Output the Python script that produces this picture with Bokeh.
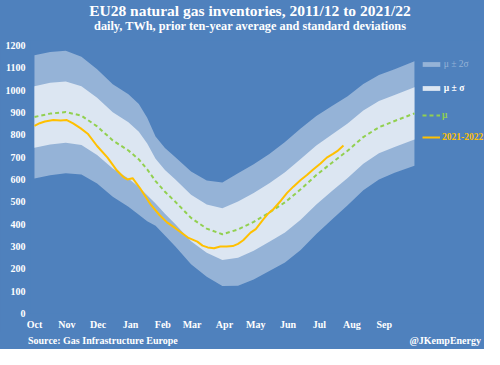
import numpy as np
from bokeh.plotting import figure
from bokeh.layouts import column
from bokeh.models import Range1d, FixedTicker, Legend, LegendItem, Div
from bokeh.embed import file_html
from bokeh.resources import INLINE

# ---- data (days since 1 October) ----
stat_days = [0, 15, 30, 45, 60, 75, 90, 100, 108, 116, 125, 135, 150, 165, 180,
             195, 210, 225, 240, 255, 270, 285, 300, 315, 330, 345, 364]
mu = [880, 895, 902, 886, 838, 775, 730, 690, 645, 593, 545, 500, 428, 380, 355,
      376, 410, 452, 498, 556, 620, 675, 729, 790, 834, 862, 896]
sigma = [138, 138, 137, 132, 128, 126, 126, 124, 116, 100, 98, 100, 104, 108, 116,
         126, 129, 131, 135, 136, 132, 127, 122, 119, 117, 116, 117]

cur_days = [0, 5, 10, 18, 25, 31, 37, 44, 51, 60, 70, 79, 85, 89, 94, 101, 111,
            120, 127, 135, 147, 156, 161, 166, 172, 178, 184, 190, 195, 200, 207,
            212, 219, 224, 229, 236, 242, 248, 255, 261, 267, 274, 280, 286, 290, 296]
cur_vals = [840, 852, 860, 866, 864, 866, 851, 830, 805, 750, 698, 640, 612, 600,
            606, 562, 490, 440, 408, 382, 340, 322, 304, 296, 292, 300, 300, 302,
            312, 328, 362, 378, 420, 448, 468, 505, 540, 568, 598, 620, 645, 672,
            698, 715, 727, 752]

month_starts = [0, 31, 61, 92, 123, 151, 182, 212, 243, 273, 304, 335]
month_labels = ["Oct", "Nov", "Dec", "Jan", "Feb", "Mar", "Apr", "May", "Jun",
                "Jul", "Aug", "Sep"]
y_ticks = list(range(0, 1300, 100))

title_text = "EU28 natural gas inventories, 2011/12 to 2021/22"
subtitle_text = "daily, TWh, prior ten-year average and standard deviations"
source_text = "Source: Gas Infrastructure Europe"
credit_text = "@JKempEnergy"

BG = "#4F81BD"
MED = "#95B3D7"
LIGHT = "#DCE6F2"
GREEN = "#92D050"
ORANGE = "#FFC000"
FONT = "Liberation Serif"

p = figure(width=484, height=292, output_backend="svg", toolbar_location=None,
           title=None,
           x_range=Range1d(-3.8, 431.1), y_range=Range1d(0, 1222.4),
           min_border_left=30, min_border_right=0, min_border_top=0,
           min_border_bottom=19, margin=0,
           background_fill_color=BG, border_fill_color=BG, outline_line_color=None)

mu_a = np.array(mu, dtype=float)
s_a = np.array(sigma, dtype=float)

r_out = p.varea(x=stat_days, y1=mu_a - 2 * s_a, y2=mu_a + 2 * s_a, fill_color=MED)
r_in = p.varea(x=stat_days, y1=mu_a - s_a, y2=mu_a + s_a, fill_color=LIGHT)
r_mu = p.line(stat_days, mu, line_color=GREEN, line_width=2, line_dash="4 3")
r_cur = p.line(cur_days, cur_vals, line_color=ORANGE, line_width=2)

p.xgrid.grid_line_color = None
p.ygrid.grid_line_color = None

for ax in (p.xaxis[0], p.yaxis[0]):
    ax.axis_line_color = None
    ax.major_tick_line_color = None
    ax.minor_tick_line_color = None
    ax.major_tick_in = 0
    ax.major_tick_out = 0
    ax.minor_tick_in = 0
    ax.minor_tick_out = 0
    ax.major_label_text_color = "white"
    ax.major_label_text_font = FONT
    ax.major_label_text_font_style = "bold"
    ax.major_label_text_font_size = "10px"

p.xaxis.ticker = FixedTicker(ticks=month_starts)
p.xaxis.major_label_overrides = {d: m for d, m in zip(month_starts, month_labels)}
p.xaxis.major_label_standoff = 5
p.yaxis.ticker = FixedTicker(ticks=y_ticks)
p.yaxis.major_label_standoff = 5


def add_leg(r, label, color, x, y, gw, gh, style="bold"):
    leg = Legend(items=[LegendItem(label=label, renderers=[r])], location=(x, y),
                 background_fill_color=None, border_line_color=None,
                 padding=0, margin=0, spacing=0, glyph_width=gw, glyph_height=gh,
                 label_height=gh, label_width=10, label_standoff=2,
                 label_text_color=color, label_text_font=FONT,
                 label_text_font_size="9.5px", label_text_font_style=style)
    p.add_layout(leg)


add_leg(r_out, "μ ± 2σ", MED, 389.8, 244, 22, 6, "normal")
add_leg(r_in, "μ ± σ", "white", 389.8, 220, 22, 6)
add_leg(r_mu, "μ", GREEN, 392, 192.5, 18, 12)
add_leg(r_cur, "2021-2022", ORANGE, 392, 170, 18, 12)

base_style = {"background-color": BG, "color": "white", "font-family": FONT,
              "font-weight": "bold"}

top = Div(text=(
    f'<div style="width:484px;text-align:center;font-size:15.5px;line-height:16px;'
    f'padding-top:3px;margin-left:8px">{title_text}</div>'
    f'<div style="width:484px;text-align:center;font-size:12.3px;line-height:14px;'
    f'padding-top:0px;margin-left:8px">{subtitle_text}</div>'),
    width=484, height=40, margin=0, styles=base_style)

bottom = Div(text=(
    f'<div style="display:flex;justify-content:space-between;width:453px;'
    f'margin-left:28px;font-size:10px;line-height:12px;padding-top:2px">'
    f'<span>{source_text}</span><span>{credit_text}</span></div>'),
    width=484, height=17, margin=0, styles=base_style)

layout = column(top, p, bottom, spacing=0, margin=0,
                styles={"background-color": BG})

open("out.html", "w").write(file_html(layout, INLINE))
